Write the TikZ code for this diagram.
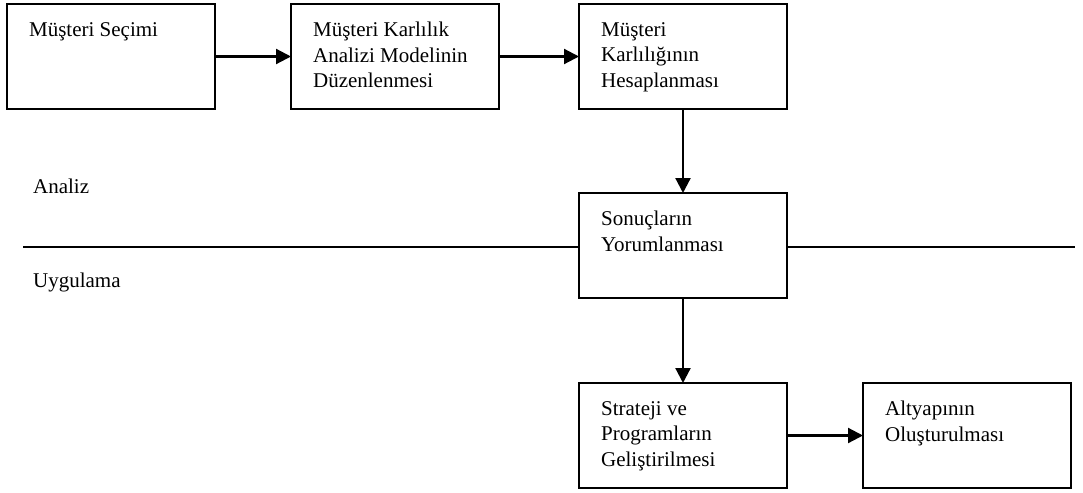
\documentclass[tikz,border=0pt]{standalone}
\usepackage{fontspec}
\setmainfont{Liberation Serif}
\usetikzlibrary{positioning, calc, arrows.meta}

\begin{document}
\begin{tikzpicture}[x=0.5pt, y=-0.5pt, line width=1.1pt,
		>={Triangle[length=7.5pt, width=7.5pt]},
		stepbox/.style={draw, minimum width=104pt, minimum height=52.5pt, anchor=north west, inner sep=0pt, outer sep=0pt},
		boxtext/.style={anchor=north west, align=left, inner sep=0pt, font=\fontsize{10.5}{12.8}\selectfont},
		sidetext/.style={anchor=base west, inner sep=0pt, font=\fontsize{10.5}{12.8}\selectfont}]
	\useasboundingbox (0,0) rectangle (1083,493);
	% boxes
	\node (b1) [stepbox] at (7,4) {};
	\node (b2) [stepbox] at (291,4) {};
	\node (b3) [stepbox] at (579,4) {};
	\node (b4) [stepbox] at (579,193) {};
	\node (b5) [stepbox] at (579,383) {};
	\node (b6) [stepbox] at (863,383) {};
	% texts
	\node (t1) [boxtext] at ($(b1.north west)+(21,17)$) {M\"u\c{s}teri Se\c{c}imi};
	\node (t2) [boxtext] at ($(b2.north west)+(21,17)$) {M\"u\c{s}teri Karl\i l\i k\\Analizi Modelinin\\D\"uzenlenmesi};
	\node (t3) [boxtext] at ($(b3.north west)+(21,17)$) {M\"u\c{s}teri\\Karl\i l\i\u{g}\i n\i n\\Hesaplanmas\i};
	\node (t4) [boxtext] at ($(b4.north west)+(21,17)$) {Sonu\c{c}lar\i n\\Yorumlanmas\i};
	\node (t5) [boxtext] at ($(b5.north west)+(21,17)$) {Strateji ve\\Programlar\i n\\Geli\c{s}tirilmesi};
	\node (t6) [boxtext] at ($(b6.north west)+(21,17)$) {Altyap\i n\i n\\Olu\c{s}turulmas\i};
	% phases
	\node (analiz) [sidetext] at (32,193) {Analiz};
	\node (uygulama) [sidetext] at (32,287) {Uygulama};
	\coordinate (sepL) at (23,247);
	\coordinate (sepR) at (1075,247);
	\draw (sepL) -- (sepL -| b4.west);
	\draw (sepR -| b4.east) -- (sepR);
	% arrows
	\draw [->] (b1) -- (b2);
	\draw [->] (b2) -- (b3);
	\draw [->] (b3) -- (b4);
	\draw [->] (b4) -- (b5);
	\draw [->] (b5) -- (b6);
\end{tikzpicture}
\end{document}
